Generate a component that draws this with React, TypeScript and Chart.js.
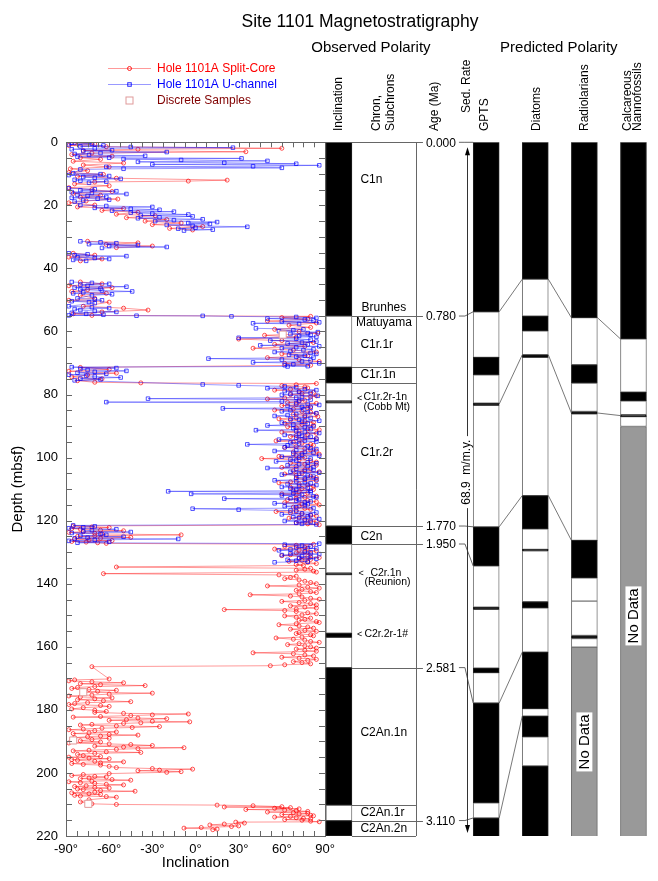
import React, { useEffect, useRef } from 'react';
import { Chart, registerables } from 'chart.js';

Chart.register(...registerables);

const FONT = '"Liberation Sans", Arial, Helvetica, sans-serif';
Chart.defaults.font.family = FONT;
Chart.defaults.color = '#000';

// ---------- Inclination data: [depth (mbsf), inclination (deg)]; null = core gap ----------
const splitCore: [number, number | null][] = [
  [0.2,-84],[0.6,-70],[1.0,-88],[1.4,-62],[1.9,60],[2.2,-40],[2.6,-78],[3.0,35],[3.4,-72],[3.9,-86],
  [4.4,-58],[4.9,-80],[5.4,-66],[6.0,-85],[6.6,-50],[7.2,-78],[7.8,-60],[8.4,-87],[9.0,-75],[9.6,-88],
  [10.2,-64],[10.8,-82],[11.4,-55],[12.0,22],[12.3,-5],[12.6,-70],[13.2,-84],[13.8,-60],[14.4,-88],[15.0,-72],
  [15.6,-58],[16.2,-85],[16.8,-66],[17.4,-80],[18.0,-54],[18.6,-76],[19.2,-88],[19.9,-70],[20.5,-82],[21.0,-50],
  [21.6,-65],[22.2,-40],[22.8,-55],[23.3,-28],[23.9,-48],[24.5,-20],[25.0,-35],[25.6,-10],[26.1,-30],[26.7,5],
  [27.3,-18],[27.8,-2],[29.6,null],[31.4,-75],[31.9,-40],[32.4,-62],[32.9,-30],[33.4,-55],[34.3,null],[35.2,-85],
  [35.8,-70],[36.4,-88],[37.0,-65],[37.6,-80],[41.0,null],[44.3,-80],[44.9,-65],[45.5,-88],[46.1,-58],[46.7,-75],
  [47.3,-86],[47.9,-62],[48.5,-80],[49.5,-70],[50.1,-88],[50.7,-60],[52.0,-78],[52.6,-50],[53.2,-33],[53.8,-65],
  [54.4,-85],[54.9,-72],[55.2,80],[55.6,60],[56.1,78],[56.7,50],[57.3,84],[58.0,65],[58.7,80],[59.3,55],
  [60.0,72],[60.6,85],[61.2,48],[61.8,70],[62.4,30],[62.9,60],[63.5,82],[64.1,55],[64.7,76],[65.3,40],
  [65.9,68],[66.5,84],[67.1,60],[67.7,78],[68.3,50],[68.9,72],[69.5,86],[70.1,62],[70.7,80],[71.4,-80],
  [72.0,-60],[72.6,-88],[73.2,-55],[73.8,-75],[74.4,-86],[75.0,-65],[75.6,-82],[76.1,-70],[76.3,-38],[76.5,84],
  [76.9,70],[77.2,60],[77.6,76],[77.9,78],[78.3,66],[78.6,55],[79.0,72],[79.3,82],[79.7,74],[80.0,66],
  [80.4,84],[80.7,80],[81.1,62],[81.4,50],[81.8,76],[82.1,72],[82.5,64],[82.8,84],[83.2,70],[83.5,60],
  [83.9,80],[84.2,78],[84.6,68],[84.9,55],[85.3,74],[85.6,80],[86.0,84],[86.3,68],[86.7,76],[87.0,85],
  [87.4,70],[87.7,58],[88.1,66],[88.4,76],[88.8,82],[89.1,62],[89.5,74],[89.8,82],[90.2,64],[90.5,70],
  [90.9,78],[91.2,86],[91.6,72],[91.9,60],[92.3,84],[92.6,78],[93.0,70],[93.3,66],[93.7,76],[94.0,84],
  [94.4,72],[94.7,56],[95.1,68],[95.4,74],[95.8,80],[96.1,82],[96.5,70],[96.8,62],[97.2,76],[97.5,80],
  [97.9,84],[98.2,68],[98.6,74],[98.9,86],[99.3,70],[99.6,58],[100.0,76],[100.3,46],[100.7,72],[101.0,80],
  [101.4,84],[101.7,66],[102.1,76],[102.4,84],[102.8,70],[103.1,60],[103.5,80],[103.8,76],[104.2,68],[104.5,86],
  [104.9,74],[105.2,62],[105.6,70],[105.9,80],[106.3,84],[106.6,70],[107.0,76],[107.3,84],[107.7,66],[108.0,58],
  [108.4,72],[108.7,78],[109.1,82],[109.4,66],[109.8,74],[110.1,82],[110.5,68],[110.8,72],[111.2,78],[111.5,60],
  [111.9,70],[112.2,84],[112.6,76],[112.9,70],[113.3,64],[113.6,78],[114.0,84],[114.3,62],[114.7,74],[115.0,86],
  [115.4,72],[115.7,68],[116.1,76],[116.4,80],[116.8,70],[117.1,56],[117.5,66],[117.8,74],[118.2,80],[118.5,84],
  [118.9,72],[119.2,65],[119.6,76],[119.9,80],[120.3,84],[120.6,70],[121.0,78],[121.3,86],[121.7,-85],[122.0,-72],
  [122.2,-60],[122.5,-86],[122.7,-80],[123.0,-66],[123.2,-50],[123.5,-78],[123.7,-88],[124.0,-70],[124.2,-65],[124.5,-10],
  [124.8,-70],[125.0,-82],[125.3,-45],[125.6,-66],[125.8,-84],[126.1,-74],[126.3,-58],[126.6,-86],[126.8,-76],[127.0,-68],
  [127.2,-62],[127.5,82],[127.8,70],[128.1,62],[128.4,76],[128.7,78],[129.0,55],[129.3,72],[129.6,84],[129.9,76],
  [130.2,70],[130.5,80],[130.8,66],[131.1,60],[131.4,78],[131.7,86],[132.0,72],[132.3,80],[132.6,74],[132.9,65],
  [133.2,78],[133.6,84],[133.9,70],[134.2,75],[134.7,-55],[135.1,80],[135.4,76],[135.7,70],[136.0,82],[136.3,84],
  [136.8,-64],[137.2,58],[137.6,70],[138.0,66],[138.4,62],[138.8,72],[139.2,76],[139.6,80],[140.0,84],[140.4,72],
  [140.7,50],[141.1,78],[141.4,86],[141.8,74],[142.1,70],[142.5,80],[142.8,84],[143.2,72],[143.5,38],[143.9,66],
  [144.2,74],[144.6,80],[144.9,86],[145.3,76],[145.6,60],[146.0,72],[146.3,80],[146.7,84],[147.0,66],[147.4,76],
  [147.7,84],[148.0,70],[148.2,20],[148.5,62],[148.8,70],[149.2,78],[149.5,84],[149.9,74],[150.2,62],[150.6,70],
  [150.9,80],[151.3,76],[151.6,72],[152.0,84],[152.3,86],[152.7,70],[153.0,58],[153.4,72],[153.7,78],[154.1,82],
  [154.4,66],[154.8,76],[155.1,84],[155.5,72],[155.8,70],[156.2,80],[156.5,82],[156.9,74],[157.2,56],[157.6,68],
  [157.9,76],[158.3,80],[158.6,86],[159.0,72],[159.3,64],[159.7,76],[160.0,80],[160.4,84],[160.7,70],[161.1,76],
  [161.4,84],[161.9,40],[162.2,68],[162.6,76],[162.9,82],[163.3,60],[163.6,72],[164.0,84],[164.3,78],[164.7,68],
  [165.0,74],[165.4,80],[165.7,62],[166.0,52],[166.3,-72],[170.2,-60],[170.5,-84],[170.8,-88],[171.1,-72],[171.4,-50],
  [171.7,-80],[172.0,-66],[172.3,-35],[172.6,-70],[172.9,-82],[173.2,-86],[173.5,-74],[173.8,-55],[174.1,-68],[174.4,-78],
  [174.7,-30],[175.0,-60],[175.3,-72],[175.6,-88],[175.9,-80],[176.2,-58],[176.5,-70],[176.8,-82],[177.1,-64],[177.4,-45],
  [177.7,-75],[178.0,-84],[178.3,-88],[178.6,-66],[178.9,-60],[179.3,-78],[179.7,-86],[180.1,-70],[180.5,-62],[180.8,-70],
  [181.1,-50],[181.3,-5],[181.6,-30],[181.8,-45],[182.1,-66],[182.3,-85],[182.6,-40],[182.8,-20],[183.1,-48],[183.3,-60],
  [183.6,-30],[183.8,-4],[184.1,-38],[184.3,-50],[184.6,-72],[184.8,-80],[185.1,-55],[185.3,-25],[185.6,-44],[185.8,-65],
  [186.1,-78],[186.3,-88],[186.6,-70],[187.0,-55],[187.3,-74],[187.5,-85],[187.8,-60],[188.0,-40],[188.3,-66],[188.5,-75],
  [188.8,-84],[189.0,-60],[189.4,-72],[189.8,-80],[190.2,-66],[190.5,-88],[190.8,-60],[191.0,-45],[191.3,-30],[191.5,-70],
  [191.8,-50],[192.0,-8],[192.3,-40],[192.5,-55],[192.8,-74],[193.0,-85],[193.3,-62],[193.5,-38],[193.8,-70],[194.1,-82],
  [194.5,-78],[194.8,-66],[195.0,-88],[195.3,-74],[195.5,-60],[195.8,-86],[196.0,-82],[196.3,-70],[196.5,-50],[196.8,-66],
  [197.0,-86],[197.3,-78],[197.5,-66],[197.9,-60],[198.3,-55],[198.6,-30],[198.8,-2],[199.1,-25],[199.3,-40],[199.6,-10],
  [199.8,-20],[200.2,-60],[200.5,-78],[200.8,-86],[201.1,-70],[201.3,-62],[201.6,-74],[201.8,-80],[202.1,-58],[202.3,-45],
  [202.6,-72],[202.8,-88],[203.1,-80],[203.3,-70],[203.6,-62],[203.8,-50],[204.1,-76],[204.3,-84],[204.6,-70],[204.8,-60],
  [205.1,-82],[205.3,-78],[205.6,-66],[205.8,-42],[206.1,-70],[206.3,-86],[206.6,-74],[206.8,-66],[207.1,-84],[207.3,-80],
  [207.5,-62],[207.7,-55],[208.5,-74],[209.2,-80],[209.8,-72],[210.0,-55],[210.2,15],[210.4,40],[210.7,60],[210.8,20],
  [211.0,66],[211.2,55],[211.4,72],[211.6,35],[211.8,62],[212.0,70],[212.2,78],[212.4,50],[212.6,68],[212.8,78],
  [213.0,72],[213.2,60],[213.4,80],[213.6,82],[213.8,66],[214.0,55],[214.2,70],[214.4,75],[214.6,80],[214.8,62],
  [215.0,74],[215.3,80],[215.5,86],[215.6,28],[215.9,34],[216.2,20],[216.5,10],[216.8,30],[217.0,25],[217.3,4],
  [217.5,-8],[217.8,15],[218.0,12],
];

const uChannel: [number, number | null][] = [
  [0.1,-86],[0.4,-72],[0.7,-88],[1.0,-64],[1.3,-80],[1.5,-45],[1.7,26],[1.9,-70],[2.2,-86],[2.5,-58],
  [2.8,-78],[3.1,-20],[3.4,-66],[3.7,-84],[4.0,-74],[4.3,-35],[4.6,-82],[4.9,-60],[5.1,32],[5.3,-50],
  [5.6,-10],[5.9,50],[6.2,-40],[6.5,20],[6.8,70],[7.0,-30],[7.3,86],[7.6,40],[7.8,-62],[8.1,60],
  [8.4,-50],[8.6,-80],[9.8,-85],[10.1,-66],[10.4,-88],[10.7,-60],[11.0,-78],[11.3,-70],[11.6,-52],[11.9,-84],
  [12.2,-80],[12.5,-62],[12.8,-74],[13.7,null],[14.6,-88],[14.9,-70],[15.2,-80],[15.5,-55],[15.8,-86],[16.1,-72],
  [16.4,-48],[16.7,-82],[17.0,-75],[17.3,-62],[17.6,-86],[17.9,-68],[18.2,-60],[18.5,-78],[18.8,-84],[19.9,-80],
  [20.2,-62],[20.5,-30],[20.8,-70],[21.1,-45],[21.4,-25],[21.7,-58],[22.0,-15],[22.3,-45],[22.6,-30],[22.9,-5],
  [23.2,-38],[23.5,-2],[23.8,-25],[24.1,-40],[24.4,5],[24.7,-15],[25.0,-28],[25.3,15],[25.6,-5],[25.9,10],
  [26.2,-20],[26.5,-2],[26.8,36],[27.1,0],[27.4,-12],[27.7,12],[28.0,-8],[29.6,null],[31.4,-80],[31.7,-66],
  [32.0,-55],[32.3,-74],[32.6,-40],[32.9,-60],[33.2,-20],[33.5,-65],[34.3,null],[35.2,-88],[35.5,-75],[35.8,-84],
  [36.1,-48],[36.4,-82],[36.7,-70],[37.0,-60],[37.3,-85],[37.6,-76],[41.0,null],[44.3,-86],[44.6,-72],[44.9,-60],
  [45.2,-80],[45.5,-75],[45.8,-48],[46.1,-84],[46.4,-66],[46.7,-80],[47.0,-65],[47.3,-44],[47.6,-78],[47.9,-85],
  [48.2,-58],[48.5,-72],[49.5,-82],[49.8,-70],[50.1,-65],[50.4,-86],[50.7,-74],[51.0,-70],[52.0,-88],[52.3,-72],
  [52.6,-60],[52.9,-84],[53.2,-80],[53.5,-70],[53.8,-55],[54.1,-86],[54.4,-76],[54.7,-64],[54.9,-88],[55.0,-41],
  [55.05,5],[55.2,25],[55.4,70],[55.7,84],[55.9,50],[56.2,76],[56.5,82],[56.8,60],[57.1,86],[57.4,40],
  [57.6,72],[58.3,null],[59.0,42],[59.3,75],[59.6,68],[59.9,58],[60.2,85],[60.5,78],[60.8,66],[61.1,80],
  [61.4,72],[61.7,84],[62.0,30],[62.3,70],[62.6,80],[62.9,52],[63.2,84],[63.5,74],[63.8,64],[64.1,78],
  [64.4,45],[64.7,86],[65.0,70],[65.3,60],[65.6,82],[65.9,75],[66.2,66],[66.5,55],[66.8,80],[67.1,84],
  [67.4,65],[67.7,76],[68.0,70],[68.3,82],[68.6,9],[68.9,60],[69.2,80],[69.5,74],[69.8,40],[70.1,86],
  [70.4,68],[70.7,62],[71.0,78],[71.1,64],[71.3,-86],[71.6,-55],[71.9,-80],[72.2,-75],[72.5,-48],[72.8,-70],
  [73.1,-82],[73.4,-62],[73.7,-88],[74.0,-76],[74.3,-70],[74.6,-52],[74.9,-80],[75.2,-66],[75.5,-84],[76.8,5],
  [77.1,30],[77.4,62],[77.7,70],[78.0,50],[78.3,76],[78.6,84],[78.9,62],[79.2,72],[79.5,80],[79.8,66],
  [80.1,60],[80.4,85],[80.7,74],[81.0,70],[81.3,-33],[81.6,80],[81.9,72],[82.2,60],[82.4,-62],[82.7,70],
  [83.0,78],[83.3,86],[83.6,64],[83.9,74],[84.2,80],[84.4,19],[84.7,75],[85.0,66],[85.3,60],[85.6,78],
  [85.9,84],[86.2,70],[86.5,64],[86.8,55],[87.1,76],[87.4,80],[87.7,66],[88.0,72],[88.3,86],[88.6,74],
  [88.9,60],[89.2,78],[89.5,68],[89.8,50],[90.1,82],[90.4,76],[90.7,68],[91.0,80],[91.3,42],[91.6,70],
  [91.9,76],[92.2,86],[92.5,72],[92.8,62],[93.1,74],[93.4,80],[93.7,70],[94.0,84],[94.3,58],[94.6,76],
  [94.9,84],[95.2,66],[95.5,72],[95.8,36],[96.1,64],[96.4,78],[96.7,62],[97.0,80],[97.3,84],[97.6,70],
  [97.9,55],[98.2,76],[98.5,82],[98.8,68],[99.1,74],[99.4,86],[99.7,60],[100.0,72],[100.3,80],[100.6,66],
  [100.9,70],[101.2,56],[101.5,78],[101.8,84],[102.1,72],[102.4,64],[102.7,78],[103.0,82],[103.3,50],[103.6,70],
  [103.9,82],[104.2,76],[104.5,66],[104.8,86],[105.1,72],[105.4,60],[105.7,78],[106.0,82],[106.3,70],[106.6,76],
  [106.9,84],[107.2,55],[107.5,70],[107.8,76],[108.1,80],[108.4,64],[108.7,84],[109.0,72],[109.3,60],[109.6,78],
  [109.9,66],[110.2,70],[110.5,80],[110.7,-19],[111.0,80],[111.3,68],[111.5,-3],[111.8,74],[112.0,60],[112.3,82],
  [112.6,84],[112.9,66],[113.0,20],[113.3,72],[113.6,70],[113.9,80],[114.2,76],[114.5,55],[114.8,78],[115.1,76],
  [115.4,62],[115.7,70],[116.0,82],[116.2,-2],[116.5,30],[116.8,66],[117.1,70],[117.4,84],[117.7,74],[118.0,60],
  [118.3,80],[118.6,78],[118.9,68],[119.2,72],[119.5,86],[119.8,76],[120.1,62],[120.4,80],[120.7,70],[121.0,74],
  [121.2,84],[121.5,-85],[121.8,-70],[122.1,-78],[122.4,-88],[122.7,-55],[123.0,-72],[123.3,-78],[123.6,-45],[123.9,-86],
  [124.2,-66],[124.5,-62],[124.8,-80],[125.1,-50],[125.4,-75],[125.6,-84],[125.8,-12],[126.1,-70],[126.4,-88],[126.7,-60],
  [127.0,-82],[127.3,86],[127.6,62],[127.9,74],[128.2,80],[128.5,70],[128.8,84],[129.1,66],[129.4,58],[129.7,76],
  [130.0,80],[130.3,66],[130.6,86],[130.9,60],[131.2,74],[131.5,80],[131.8,72],[132.1,84],[132.4,64],[132.7,70],
  [133.0,78],[133.2,55],
];

const discreteDepth = [61.0, 174.4, 189.7, 209.8];
const discreteInc = [60.6, -78, -85, -74.5];

const depthTickLabels = [0, 20, 40, 60, 80, 100, 120, 140, 160, 180, 200, 220];
const incTickLabels = [-90, -60, -30, 0, 30, 60, 90];

// ---------- Polarity columns ----------
const columns = ['Inclination', 'Chron', 'Age', 'GPTS', 'Diatoms', 'Radiolarians', 'Nannofossils'];
const SED_RATE = 68.9; // m/m.y.

// observed (depth, mbsf); N = normal, R = reversed, X = no data
const observedDepths = [0, 55.1, 71.3, 76.3, 82.0, 82.6, 121.7, 127.4, 136.6, 137.1, 155.7, 157.0, 166.6, 210.2, 215.1, 220];
const observedPolarity = 'NRNRNRNRNRNRNRN';
// predicted (age, Ma)
const gptsAges = [0, 0.78, 0.99, 1.07, 1.201, 1.211, 1.77, 1.95, 2.14, 2.15, 2.42, 2.441, 2.581, 3.04, 3.11, 3.22];
const gptsPolarity = 'NRNRNRNRNRNRNRN';
const diatomAges = [0, 0.63, 0.80, 0.868, 0.978, 0.99, 1.626, 1.779, 1.874, 1.88, 2.115, 2.143, 2.347, 2.607, 2.641, 2.736, 2.871, 3.22];
const diatomPolarity = 'NRNRNRNRNRNRNRNRN';
const radiolarianAges = [0, 0.807, 1.024, 1.108, 1.239, 1.25, 1.832, 2.005, 2.112, 2.27, 2.284, 2.324, 3.22];
const radiolarianPolarity = 'NRNRNRNRRNRX';
const nannoAges = [0, 0.905, 1.15, 1.19, 1.254, 1.263, 1.308, 3.22];
const nannoPolarity = 'NRNRNRX';

// correlation tie lines [age in left column, age in right column]
const tiesGptsDiatoms = [[0.78, 0.63], [1.205, 0.978], [1.77, 1.626], [2.581, 2.347], [3.11, 2.641]];
const tiesDiatomsRadio = [[0.63, 0.807], [0.978, 1.246], [1.626, 1.832]];
const tiesRadioNanno = [[0.807, 0.905], [1.246, 1.258]];

// chron boundaries and age tie points
const chronLineDepths = [55.1, 71.3, 76.3, 121.7, 127.4, 166.6, 210.2, 215.1];
const tieAges = [0.0, 0.78, 1.77, 1.95, 2.581, 3.11];
const tieDepths = [0, 55.1, 121.7, 127.4, 166.6, 215.1];

const chronNames = ['C1n', 'Brunhes', 'Matuyama', 'C1r.1r', 'C1r.1n', 'C1r.2r-1n', '(Cobb Mt)', 'C1r.2r', 'C2n',
  'C2r.1n', '(Reunion)', 'C2r.2r-1#', 'C2An.1n', 'C2An.1r', 'C2An.2n'];
const chronNameDepths = [12.0, 52.5, 57.3, 64.3, 73.8, 80.9, 83.9, 98.4, 125.1, 136.5, 139.4, 155.9, 187.2, 212.6, 217.8];
// layout for chron names: offset from chron box left, centered?, font size, arrow offset
const chronNameLayout = [
  { dx: 8.5, size: 12 }, { center: true, size: 12 }, { center: true, size: 12 }, { dx: 8.5, size: 12 },
  { dx: 8.5, size: 12 }, { dx: 11.5, size: 10.5, arrow: 5 }, { dx: 11.5, size: 10.5 }, { dx: 8.5, size: 12 },
  { dx: 8.5, size: 12 }, { dx: 18.5, size: 10.5, arrow: 6.5 }, { dx: 12.5, size: 10.5 },
  { dx: 12.5, size: 10.5, arrow: 5 }, { dx: 8.5, size: 12 }, { dx: 8.5, size: 12 }, { dx: 8.5, size: 12 },
];
const noDataLabelAges = { Radiolarians: 2.76, Nannofossils: 2.18 };
const SED_LABEL_DEPTH = 104.6;

// ---------- helpers ----------
function hline(ctx: CanvasRenderingContext2D, x1: number, x2: number, y: number) {
  const yy = Math.round(y) + 0.5;
  ctx.beginPath(); ctx.moveTo(x1, yy); ctx.lineTo(x2, yy); ctx.stroke();
}
function vline(ctx: CanvasRenderingContext2D, x: number, y1: number, y2: number) {
  const xx = Math.round(x) + 0.5;
  ctx.beginPath(); ctx.moveTo(xx, y1); ctx.lineTo(xx, y2); ctx.stroke();
}
function vText(ctx: CanvasRenderingContext2D, text: string, x: number, yStart: number, size: number, align = 'left') {
  ctx.save();
  ctx.translate(x, yStart);
  ctx.rotate(-Math.PI / 2);
  ctx.font = `${size}px ${FONT}`;
  ctx.textAlign = align as CanvasTextAlign;
  ctx.textBaseline = 'middle';
  ctx.fillText(text, 0, 0);
  ctx.restore();
}

const frameTicksPlugin = {
  id: 'frameTicks',
  afterDraw(chart: any) {
    const { ctx, chartArea: a, scales } = chart;
    const xs = scales.x, ys = scales.y;
    ctx.save();
    ctx.strokeStyle = '#666';
    ctx.lineWidth = 1;
    ctx.strokeRect(Math.round(a.left) + 0.5, Math.round(a.top) + 0.5, Math.round(a.right - a.left), Math.round(a.bottom - a.top));
    xs.ticks.forEach((t: any) => {
      const px = xs.getPixelForValue(t.value);
      vline(ctx, px, a.bottom - 5, a.bottom);
      vline(ctx, px, a.top, a.top + 5);
    });
    ys.ticks.forEach((t: any) => {
      const py = ys.getPixelForValue(t.value);
      hline(ctx, a.left, a.left + 6, py);
      hline(ctx, a.right - 6, a.right, py);
    });
    // title
    ctx.fillStyle = '#000';
    ctx.font = `17.5px ${FONT}`;
    ctx.textAlign = 'center';
    ctx.textBaseline = 'middle';
    ctx.fillText('Site 1101 Magnetostratigraphy', 360, 22);
    // legend
    const textColors = ['#ff0000', '#0000ff', '#800000'];
    chart.data.datasets.forEach((ds: any, i: number) => {
      const y = 68 + i * 16;
      if (ds.showLine) {
        ctx.strokeStyle = ds.borderColor;
        hline(ctx, 108, 151, y);
      }
      ctx.strokeStyle = ds.pointBorderColor;
      ctx.fillStyle = ds.pointBackgroundColor;
      if (ds.pointStyle === 'circle') {
        ctx.beginPath(); ctx.arc(129.5, y + 0.5, ds.pointRadius, 0, Math.PI * 2); ctx.stroke();
      } else {
        const s = ds.pointRadius * 1.4;
        ctx.fillRect(129.5 - s / 2, y + 0.5 - s / 2, s, s);
        ctx.strokeRect(129.5 - s / 2, y + 0.5 - s / 2, s, s);
      }
      ctx.fillStyle = textColors[i];
      ctx.font = `12px ${FONT}`;
      ctx.textAlign = 'left';
      ctx.fillText(ds.label, 157, y + 1);
    });
    ctx.restore();
  },
};

const polarityPlugin = {
  id: 'polarityDecor',
  afterDatasetsDraw(chart: any) {
    const { ctx, scales } = chart;
    const xs = scales.x, ys = scales.y;
    const half = 13;
    const cx = (name: string) => xs.getPixelForValue(columns.indexOf(name));
    const yd = (d: number) => ys.getPixelForValue(d);
    const ya = (a: number) => ys.getPixelForValue(a * SED_RATE);
    const inclLeft = cx('Inclination') - half;
    const inclRight = cx('Inclination') + half;
    const ageLine = inclRight + 64;
    const gptsLeft = cx('GPTS') - half;
    const top = yd(0), bottom = yd(220);
    ctx.save();
    ctx.strokeStyle = '#666';
    ctx.lineWidth = 1;
    // chron box
    vline(ctx, ageLine, top, bottom);
    hline(ctx, inclRight, ageLine, bottom);
    chronLineDepths.forEach((d) => hline(ctx, inclRight, ageLine + (tieDepths.includes(d) ? 7 : 0), yd(d)));
    hline(ctx, inclRight, ageLine + 7, top);
    // age tie labels and connectors
    ctx.fillStyle = '#000';
    ctx.font = `12px ${FONT}`;
    ctx.textAlign = 'left';
    ctx.textBaseline = 'middle';
    tieAges.forEach((age, i) => {
      const py = yd(tieDepths[i]);
      ctx.fillText(age.toFixed(3), ageLine + 10, py + 1);
      ctx.beginPath();
      ctx.moveTo(ageLine + 43, py);
      ctx.lineTo(ageLine + 49, py);
      ctx.lineTo(gptsLeft, ya(age));
      ctx.stroke();
    });
    // correlation lines between predicted columns
    ctx.strokeStyle = '#555';
    ctx.lineWidth = 0.8;
    const tie = (from: string, to: string, list: number[][]) => list.forEach(([a1, a2]) => {
      ctx.beginPath();
      ctx.moveTo(cx(from) + half, ya(a1));
      ctx.lineTo(cx(to) - half, ya(a2));
      ctx.stroke();
    });
    tie('GPTS', 'Diatoms', tiesGptsDiatoms);
    tie('Diatoms', 'Radiolarians', tiesDiatomsRadio);
    tie('Radiolarians', 'Nannofossils', tiesRadioNanno);
    // chron names
    ctx.fillStyle = '#000';
    chronNames.forEach((name, i) => {
      const L: any = chronNameLayout[i];
      const py = yd(chronNameDepths[i]);
      ctx.font = `${L.size}px ${FONT}`;
      if (L.center) {
        ctx.textAlign = 'center';
        ctx.fillText(name, (inclRight + ageLine) / 2, py);
      } else {
        ctx.textAlign = 'left';
        ctx.fillText(name, inclRight + L.dx, py);
      }
      if (L.arrow) {
        ctx.font = `9px ${FONT}`;
        ctx.textAlign = 'left';
        ctx.fillText('<', inclRight + L.arrow, py + 1);
      }
    });
    // sedimentation-rate arrow
    const ax = gptsLeft - 6.5;
    const aTop = top + 5, aBot = bottom - 3;
    const ly = yd(SED_LABEL_DEPTH);
    ctx.strokeStyle = '#333';
    ctx.lineWidth = 1;
    vline(ctx, ax, aTop + 6, ly - 36);
    vline(ctx, ax, ly + 36, aBot - 6);
    ctx.fillStyle = '#000';
    const axx = Math.round(ax) + 0.5;
    ctx.beginPath(); ctx.moveTo(axx, aTop); ctx.lineTo(axx - 2.5, aTop + 8); ctx.lineTo(axx + 2.5, aTop + 8); ctx.closePath(); ctx.fill();
    ctx.beginPath(); ctx.moveTo(axx, aBot); ctx.lineTo(axx - 2.5, aBot - 8); ctx.lineTo(axx + 2.5, aBot - 8); ctx.closePath(); ctx.fill();
    vText(ctx, `${SED_RATE}  m/m.y.`, ax, ly, 12, 'center');
    // No Data labels
    (['Radiolarians', 'Nannofossils'] as const).forEach((col) => {
      const x = cx(col), y = ya(noDataLabelAges[col]);
      ctx.font = `15px ${FONT}`;
      const w = ctx.measureText('No Data').width;
      ctx.fillStyle = '#fff';
      ctx.fillRect(x - 8, y - w / 2 - 2, 16, w + 4);
      ctx.fillStyle = '#000';
      vText(ctx, 'No Data', x + 0.5, y, 15, 'center');
    });
    // column headers
    ctx.fillStyle = '#000';
    vText(ctx, 'Inclination', cx('Inclination'), 131, 12);
    vText(ctx, 'Chron,', inclRight + 25, 131, 12);
    vText(ctx, 'Subchrons', inclRight + 39, 131, 12);
    vText(ctx, 'Age (Ma)', ageLine + 19, 131, 12);
    vText(ctx, 'Sed. Rate', ax, 113, 12);
    vText(ctx, 'GPTS', cx('GPTS') - 2, 131, 12);
    vText(ctx, 'Diatoms', cx('Diatoms') + 1, 131, 12);
    vText(ctx, 'Radiolarians', cx('Radiolarians') + 0.5, 131, 12);
    vText(ctx, 'Calcareous', cx('Nannofossils') - 5.5, 131, 12);
    vText(ctx, 'Nannofossils', cx('Nannofossils') + 4.5, 131, 12);
    ctx.font = `15px ${FONT}`;
    ctx.textAlign = 'center';
    ctx.textBaseline = 'middle';
    ctx.fillText('Observed Polarity', (inclLeft + ageLine) / 2, 47.5);
    ctx.fillText('Predicted Polarity', (gptsLeft + cx('Nannofossils') + half) / 2 - 1, 47.5);
    ctx.restore();
  },
};

function segments(col: string, bounds: number[], pol: string, toDepth: (v: number) => number) {
  return bounds.slice(0, -1).map((b, i) => ({ x: col, y: [toDepth(b), toDepth(bounds[i + 1])], p: pol[i] }));
}

export default function App() {
  const c1 = useRef<HTMLCanvasElement>(null);
  const c2 = useRef<HTMLCanvasElement>(null);

  useEffect(() => {
    const ch1 = new Chart(c1.current as HTMLCanvasElement, {
      type: 'scatter',
      data: {
        datasets: [
          {
            label: 'Hole 1101A Split-Core',
            data: splitCore.map(([d, inc]) => ({ x: inc, y: d })),
            showLine: true,
            borderColor: 'rgba(255,0,0,0.4)',
            borderWidth: 1,
            pointStyle: 'circle',
            pointRadius: 2,
            pointBorderWidth: 0.8,
            pointBorderColor: 'rgba(255,0,0,0.85)',
            pointBackgroundColor: 'rgba(255,255,255,0)',
            order: 3,
          },
          {
            label: 'Hole 1101A U-channel',
            data: uChannel.map(([d, inc]) => ({ x: inc, y: d })),
            showLine: true,
            borderColor: 'rgba(0,0,255,0.4)',
            borderWidth: 1,
            pointStyle: 'rect',
            pointRadius: 2.5,
            pointBorderWidth: 0.8,
            pointBorderColor: 'rgba(0,0,255,0.85)',
            pointBackgroundColor: 'rgba(255,255,255,0)',
            order: 2,
          },
          {
            label: 'Discrete Samples',
            data: discreteDepth.map((d, i) => ({ x: discreteInc[i], y: d })),
            showLine: false,
            pointStyle: 'rect',
            pointRadius: 5,
            pointBorderWidth: 1,
            pointBorderColor: '#e09a9a',
            pointBackgroundColor: '#ffffff',
            order: 1,
          },
        ],
      } as any,
      options: {
        responsive: false,
        animation: false,
        events: [],
        layout: { padding: { left: 8, right: 333, top: 142.3, bottom: 5 } },
        plugins: { legend: { display: false }, tooltip: { enabled: false } },
        scales: {
          x: {
            type: 'linear',
            min: -90,
            max: 90,
            afterFit: (s: any) => { s.height = 40; },
            grid: { display: false, drawTicks: false },
            border: { display: false },
            ticks: {
              stepSize: 7.5,
              autoSkip: false,
              maxRotation: 0,
              minRotation: 0,
              padding: 6,
              font: { size: 13 },
              color: '#000',
              callback: (v: any) => (incTickLabels.includes(v) ? `${v}°` : ''),
            },
            title: { display: true, text: 'Inclination', font: { size: 15 }, color: '#000', padding: { top: 4, bottom: 4 } },
          },
          y: {
            type: 'linear',
            min: 0,
            max: 220,
            reverse: true,
            afterFit: (s: any) => { s.width = 58; },
            grid: { display: false, drawTicks: false },
            border: { display: false },
            ticks: {
              stepSize: 5,
              autoSkip: false,
              padding: 8,
              font: { size: 13 },
              color: '#000',
              callback: (v: any) => (depthTickLabels.includes(v) ? String(v) : ''),
            },
            title: { display: true, text: 'Depth (mbsf)', font: { size: 15 }, color: '#000', padding: { top: 1, bottom: 0 } },
          },
        },
      } as any,
      plugins: [frameTicksPlugin],
    });

    const allSegs = [
      ...segments('Inclination', observedDepths, observedPolarity, (d) => d),
      ...segments('GPTS', gptsAges, gptsPolarity, (a) => a * SED_RATE),
      ...segments('Diatoms', diatomAges, diatomPolarity, (a) => a * SED_RATE),
      ...segments('Radiolarians', radiolarianAges, radiolarianPolarity, (a) => a * SED_RATE),
      ...segments('Nannofossils', nannoAges, nannoPolarity, (a) => a * SED_RATE),
    ];
    const barCommon = {
      grouped: false,
      barThickness: 26,
      borderWidth: 1,
      borderSkipped: false,
    };
    const ch2 = new Chart(c2.current as HTMLCanvasElement, {
      type: 'bar',
      data: {
        labels: columns,
        datasets: [
          { label: 'Normal', data: allSegs.filter((s) => s.p === 'N'), backgroundColor: '#000', borderColor: '#222', ...barCommon },
          { label: 'Reversed', data: allSegs.filter((s) => s.p === 'R'), backgroundColor: '#fff', borderColor: '#777', ...barCommon },
          { label: 'No Data', data: allSegs.filter((s) => s.p === 'X'), backgroundColor: '#999', borderColor: '#666', ...barCommon },
        ],
      } as any,
      options: {
        responsive: false,
        animation: false,
        events: [],
        layout: { padding: { left: 314.4, right: 0, top: 142.3, bottom: 45 } },
        plugins: { legend: { display: false }, tooltip: { enabled: false } },
        scales: {
          x: { type: 'category', display: false },
          y: { type: 'linear', min: 0, max: 220, reverse: true, display: false },
        },
      } as any,
      plugins: [polarityPlugin],
    });

    return () => {
      ch1.destroy();
      ch2.destroy();
    };
  }, []);

  return (
    <div style={{ position: 'relative', height: 865 }}>
      <canvas ref={c1} width={658} height={881} style={{ position: 'absolute', left: -8, top: -8 }} />
      <canvas ref={c2} width={658} height={881} style={{ position: 'absolute', left: -8, top: -8 }} />
    </div>
  );
}
